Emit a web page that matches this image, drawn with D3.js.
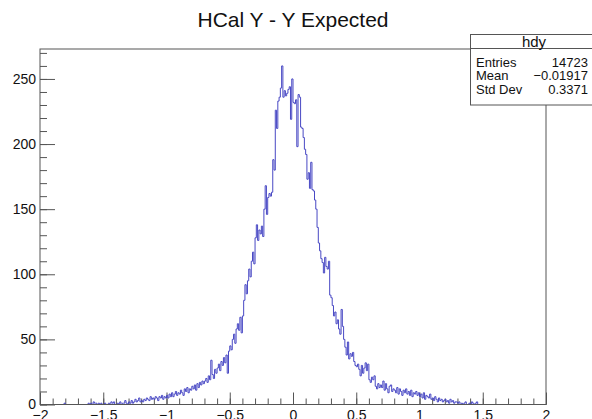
<!DOCTYPE html>
<html>
<head>
<meta charset="utf-8">
<style>
body { margin: 0; background: #fff; }
svg { display: block; font-family: "Liberation Sans", Arial, sans-serif; }
</style>
</head>
<body>
<svg width="592" height="419"></svg>
<script src="https://d3js.org/d3.v7.min.js"></script>
<script>

// histogram hdy: 400 bins from -2 to 2
var binLow = -2, binHigh = 2, binWidth = 0.01;
var counts = [
  0,0,0,0,0,0,0,0,0,0,
  0,0,0,0,0,0,0,0,0,1,
  0,0,0,0,0,0,0,0,0,0,
  0,0,0,0,0,0,0,0,1,0,
  1,0,2,1,1,0,1,0,1,0,
  0,1,0,0,1,0,2,1,2,0,
  0,1,0,2,0,1,1,3,1,0,
  2,1,3,1,2,4,2,3,5,2,
  3,2,4,3,5,4,3,6,4,5,
  4,6,5,3,6,5,7,4,6,5,
  7,5,8,6,9,6,8,10,7,9,
  8,11,9,7,12,10,13,9,12,11,
  14,12,15,11,16,13,17,15,18,16,
  18,20,17,22,19,34,23,20,27,24,
  28,31,26,33,30,36,32,38,24,41,
  45,42,50,54,47,58,62,57,67,55,
  68,80,92,85,95,104,98,110,117,108,
  128,138,126,134,131,137,129,150,168,146,
  159,162,160,163,188,180,226,212,233,236,
  243,260,236,241,237,239,242,244,219,250,
  232,231,234,198,238,236,213,212,205,196,
  192,173,178,166,186,165,164,157,150,136,
  124,118,112,109,101,113,106,104,110,84,
  82,76,68,71,62,65,58,54,73,60,
  50,44,38,48,35,39,37,40,33,30,
  29,31,27,22,30,24,28,32,26,31,
  19,17,21,19,22,14,12,16,13,15,
  13,18,11,16,12,9,14,15,10,12,
  11,9,13,8,12,10,7,11,9,12,
  8,10,7,11,6,9,8,10,7,9,
  6,8,5,9,4,7,6,5,8,4,
  5,3,6,4,2,5,3,4,2,3,
  4,2,3,1,4,2,3,1,2,2,
  1,2,0,1,0,1,2,0,0,1,
  0,2,1,0,1,2,0,0,0,0,
  0,0,0,0,0,0,0,0,0,0,
  0,0,0,0,0,0,0,0,0,0,
  0,0,0,0,0,0,0,0,0,0,
  0,0,0,0,0,0,0,0,0,0,
  0,0,0,0,0,0,0,0,0,0
];

var title = "HCal Y - Y Expected";
var statTitle = "hdy";
var statNames = ["Entries", "Mean", "Std Dev"];
var statValues = ["14723", "\u22120.01917", "0.3371"];

var xMajor = [-2, -1.5, -1, -0.5, 0, 0.5, 1, 1.5, 2];
var xMinor = d3.range(-20, 21).map(function(d) { return d / 10; });
var yMajor = [0, 50, 100, 150, 200, 250];
var yMinor = d3.range(0, 280, 10);

var svg = d3.select("svg"),
    frameL = 40, frameR = 546, frameT = 49, frameB = 404.5;

var x = d3.scaleLinear().domain([binLow, binHigh]).range([frameL, frameR]);
var y = d3.scaleLinear().domain([0, d3.max(counts) * 1.05]).range([frameB, frameT]);

// ticks (ROOT style: pointing inwards)
var gx = svg.append("g").attr("transform", "translate(0," + frameB + ")");
gx.call(d3.axisBottom(x).tickValues(xMinor).tickSize(-6).tickFormat(""));
gx.append("g").call(d3.axisBottom(x).tickValues(xMajor).tickSize(-12)
    .tickPadding(6).tickFormat(d3.format("")));

var gy = svg.append("g").attr("transform", "translate(" + frameL + ",0)");
gy.call(d3.axisLeft(y).tickValues(yMinor.filter(function(d) { return d <= y.domain()[1]; }))
    .tickSize(-7).tickFormat(""));
gy.append("g").call(d3.axisLeft(y).tickValues(yMajor).tickSize(-15).tickPadding(4));

svg.selectAll(".domain").remove();
svg.selectAll(".tick line").attr("stroke", "#555");
svg.selectAll(".tick text").attr("fill", "#111").style("font-size", "14px")
    .style("font-family", "'Liberation Sans', Arial, sans-serif");

// histogram outline
var pts = counts.map(function(c, i) { return [binLow + i * binWidth, c]; });
pts.push([binHigh, counts[counts.length - 1]]);

var line = d3.line()
    .x(function(d) { return x(d[0]); })
    .y(function(d) { return y(d[1]); })
    .curve(d3.curveStepAfter);

svg.append("path")
    .datum(pts)
    .attr("fill", "none")
    .attr("stroke", "#4848c4")
    .attr("stroke-width", 1)
    .attr("d", line);

// frame
svg.append("rect")
    .attr("x", frameL).attr("y", frameT)
    .attr("width", frameR - frameL).attr("height", frameB - frameT)
    .attr("fill", "none")
    .attr("stroke", "#555");

// title
svg.append("text")
    .attr("x", 293).attr("y", 27)
    .attr("text-anchor", "middle")
    .style("font-size", "21px")
    .attr("fill", "#111")
    .text(title);

// stats box
var bx = 470.5, by = 34.5, bw = 125, bh = 70.5;
svg.append("rect")
    .attr("x", bx).attr("y", by).attr("width", bw).attr("height", bh)
    .attr("fill", "#fff").attr("stroke", "#555");
svg.append("line")
    .attr("x1", bx).attr("x2", bx + bw)
    .attr("y1", 48.5).attr("y2", 48.5)
    .attr("stroke", "#555");
svg.append("text")
    .attr("x", 534).attr("y", 47)
    .attr("text-anchor", "middle")
    .style("font-size", "15px")
    .attr("fill", "#111")
    .text(statTitle);

statNames.forEach(function(n, i) {
  var yy = 66.5 + i * 13.8;
  svg.append("text").attr("x", 476).attr("y", yy)
      .style("font-size", "13px").attr("fill", "#111").text(n);
  svg.append("text").attr("x", 588).attr("y", yy)
      .attr("text-anchor", "end")
      .style("font-size", "13px").attr("fill", "#111").text(statValues[i]);
});

</script>
</body>
</html>
